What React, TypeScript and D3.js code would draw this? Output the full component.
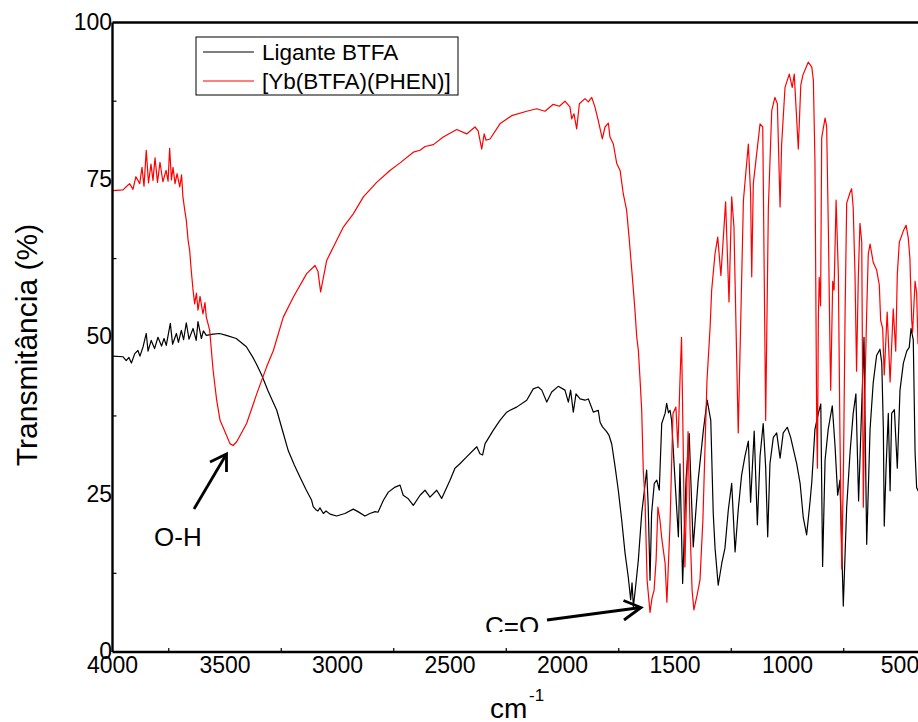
import React from 'react';
import * as d3 from 'd3';

const W = 918;
const H = 722;

const xTickValues = [4000, 3500, 3000, 2500, 2000, 1500, 1000, 500];
const xMinorTickValues = [3750, 3250, 2750, 2250, 1750, 1250, 750];
const yTickValues = [0, 25, 50, 75, 100];
const yMinorTickValues = [12.5, 37.5, 62.5, 87.5];

const seriesNames = ['Ligante BTFA', '[Yb(BTFA)(PHEN)]'];
const seriesColors = ['#000000', '#ff0000'];

// [wavenumber cm-1, transmittance %]
const ligandBTFA: [number, number][] = [
  [4000,47.0],[3953,46.9],[3939,46.3],[3927,46.8],[3916,45.9],[3901,47.4],[3887,47.9],[3878,47.0],[3864,48.5],[3850,50.6],[3842,47.8],[3828,49.5],[3813,48.2],[3798,50.0],[3782,48.6],[3771,49.8],[3761,48.7],[3743,52.2],[3733,48.9],[3716,50.6],[3707,49.2],[3694,51.1],[3684,49.6],[3672,52.3],[3660,49.7],[3642,51.4],[3628,49.5],[3620,52.5],[3605,49.8],[3596,51.0],[3583,50.3],[3553,50.5],[3524,50.6],[3494,50.3],[3450,49.8],[3405,48.5],[3376,46.8],[3361,45.8],[3337,44.0],[3309,41.5],[3270,38.4],[3247,35.5],[3219,32.0],[3193,29.8],[3167,27.8],[3140,25.8],[3115,24.1],[3108,23.1],[3096,22.6],[3087,22.4],[3078,22.9],[3063,22.0],[3051,22.4],[3033,21.9],[3004,21.6],[2967,22.0],[2930,22.7],[2909,22.3],[2878,21.6],[2856,22.0],[2833,22.3],[2820,22.2],[2796,24.1],[2774,25.4],[2744,26.2],[2722,26.5],[2708,24.9],[2687,24.4],[2663,23.3],[2633,24.9],[2611,25.7],[2589,24.6],[2559,25.7],[2537,24.4],[2500,27.3],[2478,29.2],[2456,29.9],[2426,31.0],[2381,32.6],[2367,31.5],[2355,31.3],[2344,33.1],[2308,35.2],[2278,36.8],[2248,38.1],[2233,38.4],[2204,38.9],[2159,40.0],[2130,41.8],[2108,42.1],[2092,41.6],[2070,39.7],[2048,41.3],[2019,42.2],[1989,41.6],[1974,39.7],[1964,41.6],[1952,38.1],[1940,41.0],[1922,40.2],[1900,40.0],[1885,40.2],[1863,38.1],[1841,38.4],[1833,36.5],[1823,35.8],[1804,35.0],[1793,34.4],[1781,33.0],[1767,29.6],[1752,25.7],[1737,21.0],[1722,15.7],[1708,12.0],[1697,8.3],[1691,11.0],[1685,7.2],[1675,10.4],[1663,14.6],[1648,22.0],[1636,25.7],[1626,28.9],[1619,23.1],[1611,11.4],[1604,22.0],[1592,26.8],[1581,27.3],[1570,25.7],[1559,36.3],[1544,37.9],[1537,39.5],[1529,38.0],[1522,38.4],[1515,36.8],[1500,27.3],[1485,18.3],[1478,29.9],[1466,10.9],[1451,27.3],[1437,34.7],[1419,16.7],[1397,27.3],[1374,35.2],[1357,40.0],[1341,36.8],[1330,22.0],[1322,16.5],[1308,10.6],[1292,14.1],[1278,16.5],[1263,22.6],[1248,26.8],[1233,15.9],[1219,22.6],[1204,28.1],[1189,31.1],[1174,33.5],[1164,23.8],[1148,35.1],[1134,20.2],[1122,31.1],[1108,36.3],[1097,29.3],[1088,18.3],[1078,29.9],[1063,34.1],[1048,34.8],[1033,30.8],[1019,34.8],[1001,35.7],[986,34.1],[959,29.9],[944,26.8],[930,21.4],[915,18.6],[900,23.8],[892,27.0],[878,35.4],[863,37.9],[852,39.4],[844,13.6],[833,30.5],[819,35.4],[801,39.1],[789,32.9],[777,24.9],[767,27.3],[752,7.3],[737,23.0],[722,31.7],[708,37.9],[696,41.0],[684,24.0],[673,36.0],[660,50.0],[648,17.1],[633,35.4],[619,42.8],[604,47.1],[589,48.1],[581,45.9],[574,35.4],[570,20.0],[562,29.2],[552,37.9],[544,25.6],[537,37.9],[525,38.5],[512,29.2],[500,41.6],[485,45.9],[470,47.8],[459,48.4],[451,51.4],[441,49.6],[433,31.7],[426,26.1],[411,25.0],[400,26.0]
];

const ybComplex: [number, number][] = [
  [4000,73.3],[3953,73.4],[3939,73.9],[3924,74.4],[3909,73.5],[3896,75.5],[3879,74.4],[3869,77.0],[3860,74.0],[3850,79.7],[3840,74.5],[3829,77.5],[3820,74.9],[3811,78.5],[3800,74.6],[3789,77.8],[3776,74.7],[3762,76.5],[3753,74.8],[3746,80.0],[3738,75.0],[3731,77.0],[3722,74.4],[3713,76.0],[3701,73.9],[3693,75.8],[3687,72.3],[3679,70.2],[3672,68.6],[3664,65.4],[3657,63.8],[3650,60.6],[3642,57.5],[3635,55.3],[3627,57.0],[3620,54.3],[3611,56.5],[3598,53.7],[3589,55.5],[3583,53.2],[3568,51.1],[3553,44.8],[3537,40.0],[3522,36.8],[3500,35.0],[3478,33.1],[3464,32.8],[3448,33.4],[3404,36.3],[3359,41.0],[3315,45.3],[3285,47.9],[3241,53.2],[3196,56.4],[3137,60.1],[3100,61.4],[3087,60.5],[3075,57.2],[3048,62.2],[3026,63.8],[3019,64.3],[2974,67.5],[2930,69.6],[2885,72.3],[2826,74.6],[2767,76.5],[2722,77.7],[2663,79.4],[2633,79.7],[2611,80.3],[2574,80.6],[2530,81.8],[2470,83.0],[2426,82.3],[2389,83.4],[2375,82.8],[2359,79.9],[2348,82.3],[2340,81.3],[2322,81.5],[2278,83.9],[2226,85.2],[2159,85.9],[2115,86.3],[2078,85.9],[2041,87.0],[2014,86.7],[1989,87.5],[1967,86.6],[1959,84.7],[1949,85.5],[1937,83.1],[1925,87.1],[1900,87.9],[1885,87.4],[1870,88.1],[1856,86.6],[1841,84.4],[1823,81.5],[1811,83.4],[1796,84.0],[1789,81.8],[1774,80.7],[1759,77.6],[1744,76.5],[1730,72.8],[1715,70.2],[1703,65.4],[1686,58.0],[1678,54.3],[1670,50.0],[1663,48.0],[1656,43.7],[1648,38.4],[1641,28.9],[1633,24.0],[1624,11.4],[1611,6.3],[1602,8.6],[1593,9.8],[1584,14.6],[1576,23.0],[1567,21.0],[1558,17.8],[1544,14.1],[1536,7.9],[1522,20.5],[1509,37.9],[1496,38.9],[1487,32.5],[1478,43.0],[1471,50.0],[1464,33.7],[1456,13.5],[1442,35.0],[1433,19.4],[1424,9.8],[1416,6.7],[1402,9.0],[1389,11.4],[1376,21.0],[1358,43.0],[1344,51.6],[1337,57.5],[1322,63.3],[1310,65.9],[1296,59.8],[1275,71.5],[1260,55.6],[1248,72.3],[1238,67.5],[1219,34.8],[1196,71.7],[1174,80.7],[1164,72.8],[1159,59.6],[1152,74.4],[1122,83.9],[1110,83.4],[1097,36.8],[1085,70.7],[1070,86.0],[1056,88.1],[1045,87.1],[1033,70.7],[1026,80.7],[1011,89.7],[992,91.8],[979,89.7],[970,91.8],[952,79.9],[941,90.0],[932,91.6],[908,93.7],[892,92.9],[885,90.8],[878,78.0],[870,35.4],[867,29.2],[863,52.7],[859,59.5],[853,55.0],[848,81.7],[833,84.8],[826,83.5],[818,66.3],[811,47.8],[808,41.6],[799,58.9],[793,57.5],[784,71.8],[774,60.0],[767,35.0],[759,13.2],[751,30.0],[744,54.0],[737,71.3],[722,73.0],[715,73.6],[708,70.6],[700,60.0],[693,44.6],[685,60.0],[678,68.1],[670,65.1],[663,23.0],[656,41.6],[648,54.0],[641,63.2],[633,64.8],[619,61.9],[604,60.7],[592,58.3],[586,52.7],[577,51.4],[570,44.0],[557,54.0],[544,42.9],[530,54.5],[519,47.8],[512,60.0],[503,65.1],[485,66.9],[473,67.8],[463,65.7],[456,62.5],[448,52.7],[444,50.8],[433,58.9],[426,57.0],[420,49.0],[400,48.0]
];

const series = [ligandBTFA, ybComplex];

export default function App() {
  const x = d3.scaleLinear().domain([4000, 400]).range([112.5, 922.5]);
  const y = d3.scaleLinear().domain([0, 100]).range([652, 22.5]);
  const line = d3.line<[number, number]>().x(d => x(d[0])).y(d => y(d[1]));
  const font = "'Liberation Sans', Arial, Helvetica, sans-serif";
  const left = x(4000), right = x(400), top = y(100), bottom = y(0);

  return (
    <svg width={W} height={H} style={{ position: 'absolute', left: 0, top: 0, background: '#fff' }} fontFamily={font}>
      <defs>
        <clipPath id="plotClip">
          <rect x={left} y={top} width={right - left} height={bottom - top} />
        </clipPath>
        <clipPath id="coClip">
          <rect x={470} y={590} width={100} height={42} />
        </clipPath>
      </defs>
      <rect x={0} y={0} width={W} height={H} fill="#fff" />

      <g clipPath="url(#plotClip)">
        {series.map((s, i) => (
          <path key={i} d={line(s) || ''} fill="none" stroke={seriesColors[i]} strokeWidth={1.2} strokeLinejoin="round" />
        ))}
      </g>

      {/* frame */}
      <line x1={left} x2={right} y1={top} y2={top} stroke="#000" strokeWidth={2.6} />
      <line x1={left} x2={right} y1={bottom} y2={bottom} stroke="#000" strokeWidth={2.6} />
      <line x1={left} x2={left} y1={top} y2={bottom} stroke="#000" strokeWidth={2.4} />
      <line x1={right} x2={right} y1={top} y2={bottom} stroke="#000" strokeWidth={2.4} />

      {/* minor ticks */}
      {xMinorTickValues.map(v => (
        <line key={'xm' + v} x1={x(v)} x2={x(v)} y1={bottom} y2={bottom - 4} stroke="#000" strokeWidth={1.2} />
      ))}
      {yMinorTickValues.map(v => (
        <line key={'ym' + v} x1={left} x2={left + 4} y1={y(v)} y2={y(v)} stroke="#000" strokeWidth={1.2} />
      ))}

      {/* tick labels */}
      {xTickValues.map(v => (
        <text key={'xt' + v} x={x(v)} y={673} textAnchor="middle" fontSize={23} fill="#000">{v}</text>
      ))}
      {yTickValues.map(v => (
        <text key={'yt' + v} x={112} y={y(v) + 7} textAnchor="end" fontSize={23} fill="#000">{v}</text>
      ))}

      {/* axis titles */}
      <text x={490} y={718} fontSize={28} fill="#000">cm</text>
      <text x={529} y={701} fontSize={17} fill="#000">-1</text>
      <text transform="translate(37,345) rotate(-90)" textAnchor="middle" fontSize={30} fill="#000">Transmitância (%)</text>

      {/* legend */}
      <rect x={196} y={37} width={262} height={58} fill="#fff" stroke="#000" strokeWidth={1} />
      {seriesNames.map((n, i) => (
        <g key={n}>
          <line x1={203} x2={254} y1={52 + i * 29} y2={52 + i * 29} stroke={seriesColors[i]} strokeWidth={1.2} />
          <text x={262} y={60 + i * 29} fontSize={22.5} fill="#000">{n}</text>
        </g>
      ))}

      {/* O-H annotation */}
      <text x={154} y={546} fontSize={26} fill="#000">O-H</text>
      <line x1={194} y1={509} x2={226.5} y2={454} stroke="#000" strokeWidth={2.8} />
      <polyline points="210,462 226.5,454 226.5,472" fill="none" stroke="#000" strokeWidth={2.8} />

      {/* C=O annotation */}
      <text x={485} y={635} fontSize={26} fill="#000" clipPath="url(#coClip)">C=O</text>
      <line x1={547} y1={620} x2={641} y2={607.5} stroke="#000" strokeWidth={2.8} />
      <polyline points="623.5,600.5 641,607.5 624,620" fill="none" stroke="#000" strokeWidth={2.8} />
    </svg>
  );
}
